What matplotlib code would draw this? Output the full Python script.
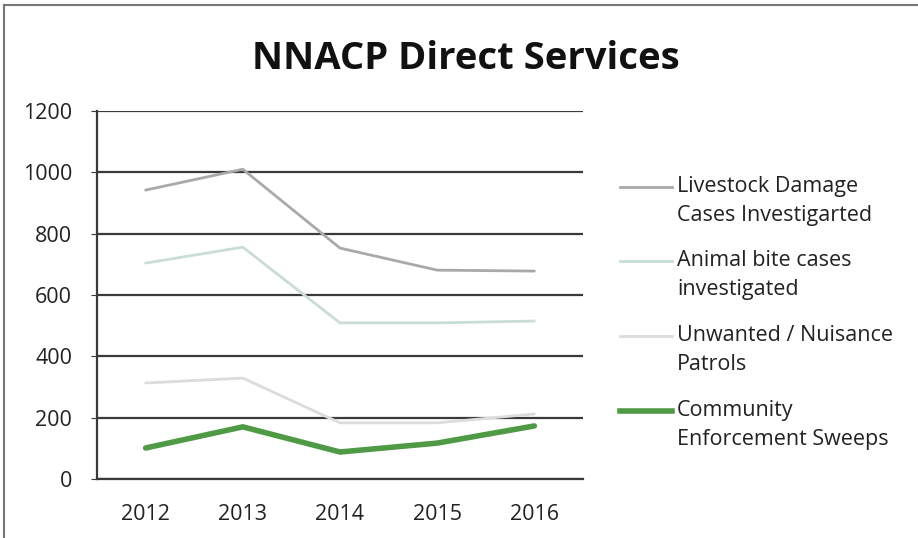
import matplotlib.pyplot as plt
from matplotlib.lines import Line2D

years = [2012, 2013, 2014, 2015, 2016]
livestock = [942, 1010, 753, 681, 678]
animal_bite = [704, 756, 509, 509, 515]
nuisance = [313, 329, 183, 183, 212]
sweeps = [101, 170, 88, 117, 173]

labels = [
    "Livestock Damage\nCases Investigarted",
    "Animal bite cases\ninvestigated",
    "Unwanted / Nuisance\nPatrols",
    "Community\nEnforcement Sweeps",
]
colors = ["#a9a9a9", "#c9ddd6", "#dcdcdc", "#4f9a45"]
widths = [2.0, 2.0, 2.0, 4.0]

plt.rcParams['font.family'] = ['Open Sans', 'DejaVu Sans']

fig = plt.figure(figsize=(9.18, 5.38), dpi=100)
ax = fig.add_axes([0.1057, 0.1097, 0.5293, 0.684])

series = [livestock, animal_bite, nuisance, sweeps]
for vals, c, w in zip(series, colors, widths):
    ax.plot(years, vals, color=c, linewidth=w, solid_capstyle='round', zorder=3)

ax.set_xlim(2011.5, 2016.5)
ax.set_ylim(0, 1200)
ax.set_yticks(range(0, 1201, 200))
ax.set_xticks(years)
ax.grid(axis='y', color='#3a3a3a', linewidth=1.6, zorder=1)
for side in ['top', 'right']:
    ax.spines[side].set_visible(False)
ax.spines['left'].set_color('#3a3a3a')
ax.spines['bottom'].set_color('#3a3a3a')
ax.spines['left'].set_linewidth(1.6)
ax.spines['bottom'].set_linewidth(1.6)
ax.tick_params(axis='both', labelsize=15.5, colors='#3a3a3a', labelcolor='#222222')
ax.tick_params(axis='x', length=0, pad=18)
ax.tick_params(axis='y', length=4, pad=14)

fig.text(0.508, 0.89, "NNACP Direct Services", ha='center', va='center',
         fontsize=27.5, fontweight='bold', color='#111111')

# legend drawn by hand: the key line sits level with the first text line
W, H = 918, 538
entry_y = [187, 261, 336, 411]
for y, lab, c, w in zip(entry_y, labels, colors, widths):
    fy = 1 - y / H
    fig.add_artist(Line2D([620 / W, 672 / W], [fy, fy], color=c, linewidth=w,
                          transform=fig.transFigure))
    fig.text(677 / W, 1 - (y + 14) / H, lab, ha='left', va='center',
             fontsize=15.5, color='#222222', linespacing=1.45)

# outer frame of the scanned chart (left and top edges)
fig.add_artist(Line2D([0.004, 0.004], [0.0, 0.99], color='#777777', linewidth=1.5,
                      transform=fig.transFigure))
fig.add_artist(Line2D([0.004, 1.0], [0.99, 0.99], color='#777777', linewidth=1.5,
                      transform=fig.transFigure))

fig.savefig("out.png", dpi=100)
